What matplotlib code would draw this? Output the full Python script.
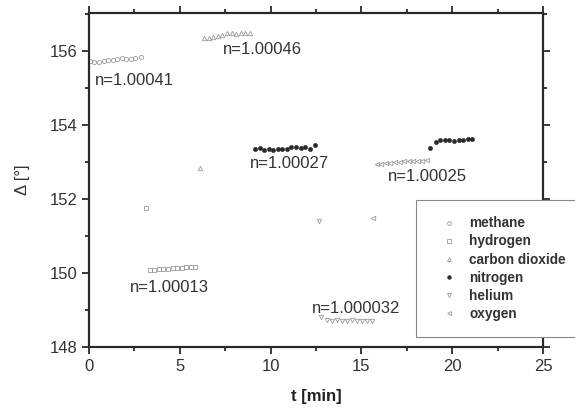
import matplotlib
matplotlib.use("Agg")
import matplotlib.pyplot as plt
from matplotlib.ticker import MultipleLocator

plt.rcParams['font.family'] = ['Liberation Sans', 'DejaVu Sans']

# data (t in min, delta in degrees)
methane_t = [0.05, 0.3, 0.55, 0.8, 1.05, 1.3, 1.55, 1.8, 2.05, 2.3, 2.55, 2.85]
methane_v = [155.72, 155.70, 155.71, 155.73, 155.75, 155.77, 155.79, 155.80, 155.78, 155.79, 155.81, 155.83]

hydrogen_t = [3.14, 3.35, 3.6, 3.85, 4.1, 4.35, 4.6, 4.85, 5.1, 5.35, 5.6, 5.85]
hydrogen_v = [151.76, 150.08, 150.08, 150.10, 150.12, 150.11, 150.13, 150.14, 150.14, 150.15, 150.16, 150.17]

co2_t = [6.1, 6.35, 6.6, 6.85, 7.1, 7.35, 7.6, 7.85, 8.1, 8.35, 8.6, 8.85]
co2_v = [152.84, 156.36, 156.35, 156.38, 156.40, 156.44, 156.50, 156.48, 156.47, 156.49, 156.50, 156.50]

nitrogen_t = [9.15, 9.4, 9.65, 9.9, 10.15, 10.4, 10.65, 10.9, 11.15, 11.4, 11.65, 11.9, 12.15, 12.45,
              18.8, 19.1, 19.35, 19.6, 19.85, 20.1, 20.35, 20.6, 20.85, 21.1]
nitrogen_v = [153.35, 153.38, 153.33, 153.36, 153.32, 153.35, 153.36, 153.34, 153.42, 153.40, 153.38, 153.41, 153.36, 153.45,
              153.38, 153.55, 153.60, 153.60, 153.60, 153.58, 153.60, 153.60, 153.62, 153.62]

helium_t = [12.67, 12.8, 13.08, 13.36, 13.64, 13.92, 14.2, 14.48, 14.76, 15.04, 15.32, 15.6]
helium_v = [151.40, 148.80, 148.74, 148.70, 148.72, 148.70, 148.69, 148.72, 148.70, 148.70, 148.71, 148.71]

oxygen_t = [15.65, 15.85, 16.1, 16.35, 16.6, 16.85, 17.1, 17.35, 17.6, 17.85, 18.1, 18.35, 18.6]
oxygen_v = [151.49, 152.95, 152.96, 152.97, 152.98, 153.00, 153.01, 153.02, 153.02, 153.03, 153.04, 153.04, 153.05]

# annotation texts: label, left t, centre delta
notes = [("n=1.00041", 0.33, 155.2),
         ("n=1.00046", 7.4, 156.03),
         ("n=1.00027", 8.87, 152.95),
         ("n=1.00025", 16.46, 152.6),
         ("n=1.00013", 2.26, 149.62),
         ("n=1.000032", 12.28, 149.03)]

grey = "#9a9a9a"
dark = "#2a2a2a"

fig = plt.figure(figsize=(5.75, 4.12), dpi=100)
ax = fig.add_axes([89/575, 65/412, 454/575, 334/412])

ms = 3.0
ax.plot(methane_t, methane_v, "o", ms=ms, mfc="none", mec=grey, mew=0.6, label="methane")
ax.plot(hydrogen_t, hydrogen_v, "s", ms=ms - 0.3, mfc="none", mec=grey, mew=0.6, label="hydrogen")
ax.plot(co2_t, co2_v, "^", ms=ms + 0.2, mfc="none", mec=grey, mew=0.6, label="carbon dioxide")
ax.plot(nitrogen_t, nitrogen_v, "o", ms=ms, mfc=dark, mec=dark, mew=0.4, label="nitrogen")
ax.plot(helium_t, helium_v, "v", ms=ms + 0.2, mfc="none", mec=grey, mew=0.6, label="helium")
ax.plot(oxygen_t, oxygen_v, "<", ms=ms + 0.2, mfc="none", mec=grey, mew=0.6, label="oxygen")

for txt, tx, ty in notes:
    ax.text(tx, ty, txt, fontsize=12, color="#333333", va="center", ha="left")

ax.set_xlim(0, 25)
ax.set_ylim(148, 157.03)
ax.xaxis.set_major_locator(MultipleLocator(5))
ax.xaxis.set_minor_locator(MultipleLocator(2.5))
ax.yaxis.set_major_locator(MultipleLocator(2))
ax.yaxis.set_minor_locator(MultipleLocator(1))
ax.tick_params(which="both", direction="out", top=True, right=True, color=dark,
               labelsize=12, labelcolor="#333333", width=1.3)
ax.tick_params(which="major", length=5)
ax.tick_params(which="minor", length=3)
for sp in ax.spines.values():
    sp.set_linewidth(1.6)
    sp.set_color(dark)

ax.set_xlabel("t [min]", fontsize=12, fontweight="bold", color="#222222", labelpad=11)
ax.set_ylabel("Δ [°]", fontsize=12, color="#333333", labelpad=14)

leg = ax.legend(loc="upper left", bbox_to_anchor=(416/575, 78/412, 165/575, 134/412),
                bbox_transform=fig.transFigure, mode="expand", borderaxespad=0,
                prop={"size": 9.8, "weight": "bold"}, labelcolor="#333333",
                handlelength=2.4, handletextpad=0.3, borderpad=1.2, labelspacing=0.3,
                markerscale=0.9, fancybox=False, framealpha=1, edgecolor="#888888")
leg.get_frame().set_linewidth(0.8)

fig.savefig("out.png", dpi=100)
